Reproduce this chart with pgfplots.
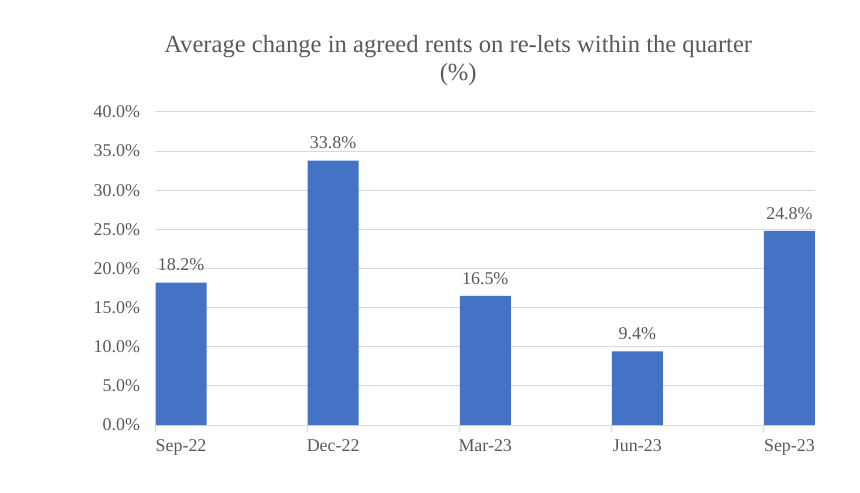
\documentclass[border=0pt]{standalone}
\usepackage{pgfplots}
\pgfplotsset{compat=1.18}
\usepackage{fontspec}
\setmainfont{Liberation Serif}
\definecolor{barblue}{HTML}{4472C4}
\definecolor{ticktext}{HTML}{595959}
\definecolor{gridgray}{HTML}{D9D9D9}
\definecolor{titletext}{HTML}{595959}
\begin{document}
\begin{tikzpicture}
\path[fill=white,use as bounding box] (0,0) rectangle (860bp,493bp);
\begin{axis}[
  at={(155.5bp,68bp)}, anchor=south west,
  scale only axis, width=659.5bp, height=313bp,
  xmin=-0.168, xmax=4.168, ymin=0, ymax=40,
  axis line style={draw=none},
  ymajorgrids, grid style={gridgray, line width=1pt},
  ytick={0,5,...,40},
  yticklabels={0.0\%,5.0\%,10.0\%,15.0\%,20.0\%,25.0\%,30.0\%,35.0\%,40.0\%},
  yticklabel style={font=\fontsize{18}{21}\selectfont, text=ticktext, xshift=-12bp},
  ytick style={draw=none},
  xtick pos=bottom,
  xtick={0,1,2,3,4},
  xticklabels={Sep-22,Dec-22,Mar-23,Jun-23,Sep-23},
  xticklabel style={font=\fontsize{18}{21}\selectfont, text=ticktext, yshift=-11bp},
  xtick style={draw=none},
  /pgf/number format/assume math mode=true,
  title={Average change in agreed rents on re-lets within the quarter\\(\%)},
  title style={align=center, font=\fontsize{24.7}{28}\selectfont, text=titletext, at={(0.459,1)}, anchor=south, yshift=17bp},
  nodes near coords={\pgfmathprintnumber[fixed,fixed zerofill,precision=1]{\pgfplotspointmeta}\%},
  nodes near coords style={font=\fontsize{18}{21}\selectfont, text=ticktext, yshift=8bp},
  clip=false,
]
\addplot[ybar, bar width=51bp, fill=barblue, draw=none] coordinates {(0,18.2) (1,33.8) (2,16.5) (3,9.4) (4,24.8)};
\foreach \t in {-0.168,0.832,1.832,2.832,3.832} {
  \edef\tmp{\noexpand\draw[color=gridgray, line width=1pt] (axis cs:\t,0) -- ([yshift=-7bp]axis cs:\t,0);}
  \tmp
}
\end{axis}
\end{tikzpicture}
\end{document}
